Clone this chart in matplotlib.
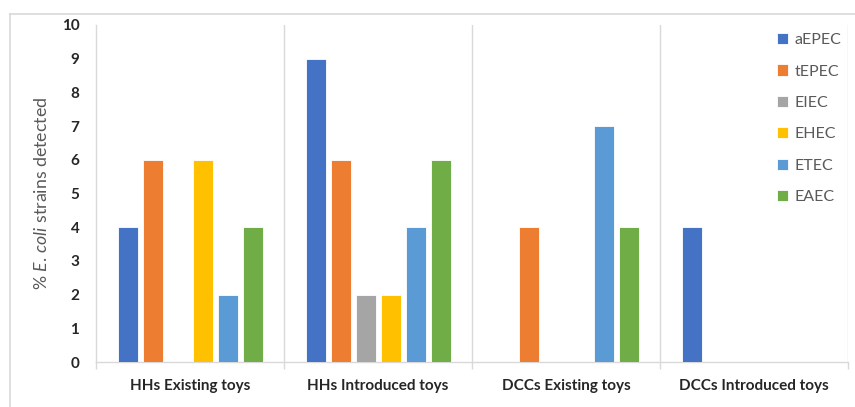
import matplotlib
matplotlib.use("Agg")
import matplotlib.pyplot as plt
import numpy as np
from matplotlib.lines import Line2D

plt.rcParams['font.family'] = ['Lato', 'DejaVu Sans']
plt.rcParams['mathtext.fontset'] = 'custom'
plt.rcParams['mathtext.rm'] = 'Lato'
plt.rcParams['mathtext.it'] = 'Lato:italic'

categories = ["HHs Existing toys", "HHs Introduced toys", "DCCs Existing toys", "DCCs Introduced toys"]
series_names = ["aEPEC", "tEPEC", "EIEC", "EHEC", "ETEC", "EAEC"]
aEPEC = [4, 9, 0, 4]
tEPEC = [6, 6, 4, 0]
EIEC = [0, 2, 0, 0]
EHEC = [6, 2, 0, 0]
ETEC = [2, 4, 7, 0]
EAEC = [4, 6, 4, 0]
series_values = [aEPEC, tEPEC, EIEC, EHEC, ETEC, EAEC]
colors = ["#4472C4", "#ED7D31", "#A5A5A5", "#FFC000", "#5B9BD5", "#70AD47"]
yticks = list(range(0, 11))

W, H = 855, 407
fig = plt.figure(figsize=(W / 100, H / 100), dpi=100)
ax = fig.add_axes([96 / W, 1 - 362 / H, (848 - 96) / W, (362 - 25) / H])

slot = 25 / 188
bw = 20 / 188
centers = np.arange(len(categories)) + 0.5
handles = []
for i, (name, vals, c) in enumerate(zip(series_names, series_values, colors)):
    b = ax.bar(centers + (i - 2.5) * slot, vals, width=bw, color=c,
               edgecolor="white", linewidth=0.6, label=name, zorder=3)
    handles.append(b)

ax.set_xlim(0, 4)
ax.set_ylim(0, 10)
ax.set_yticks(yticks)
ax.set_yticklabels([str(t) for t in yticks], fontweight="bold", fontsize=11, color="#262626")
ax.tick_params(axis="y", length=0, pad=12)

ax.set_xticks([0, 1, 2, 3, 4])
ax.set_xticklabels([])
ax.tick_params(axis="x", which="major", length=5, color="#D9D9D9", width=1, direction="out")
ax.set_xticks(centers, minor=True)
ax.set_xticklabels(categories, minor=True, fontweight="bold", fontsize=11, color="#262626")
ax.tick_params(axis="x", which="minor", length=0, pad=12)

for xv in [1, 2, 3, 4]:
    ax.axvline(xv, color="#D9D9D9", linewidth=1, zorder=1)

for s in ["top", "right"]:
    ax.spines[s].set_visible(False)
for s in ["left", "bottom"]:
    ax.spines[s].set_color("#D9D9D9")
    ax.spines[s].set_linewidth(1)

ax.set_ylabel(r"% $\mathit{E.\,coli}$ strains detected", fontsize=12.8, color="#595959", labelpad=8)

leg = ax.legend(handles=handles, loc="upper left", bbox_to_anchor=(777 / W, 1 - 33 / H),
                bbox_transform=fig.transFigure, frameon=False, fontsize=11.5,
                handlelength=0.7, handleheight=0.7, handletextpad=0.4, labelspacing=1.08,
                borderaxespad=0, borderpad=0)
for t in leg.get_texts():
    t.set_color("#595959")

# outer chart border
fig.add_artist(Line2D([10 / W, 10 / W], [0, 1 - 14 / H], transform=fig.transFigure, color="#D9D9D9", linewidth=1.2))
fig.add_artist(Line2D([10 / W, 1], [1 - 14 / H, 1 - 14 / H], transform=fig.transFigure, color="#D9D9D9", linewidth=1.2))

fig.savefig("out.png", dpi=100)
